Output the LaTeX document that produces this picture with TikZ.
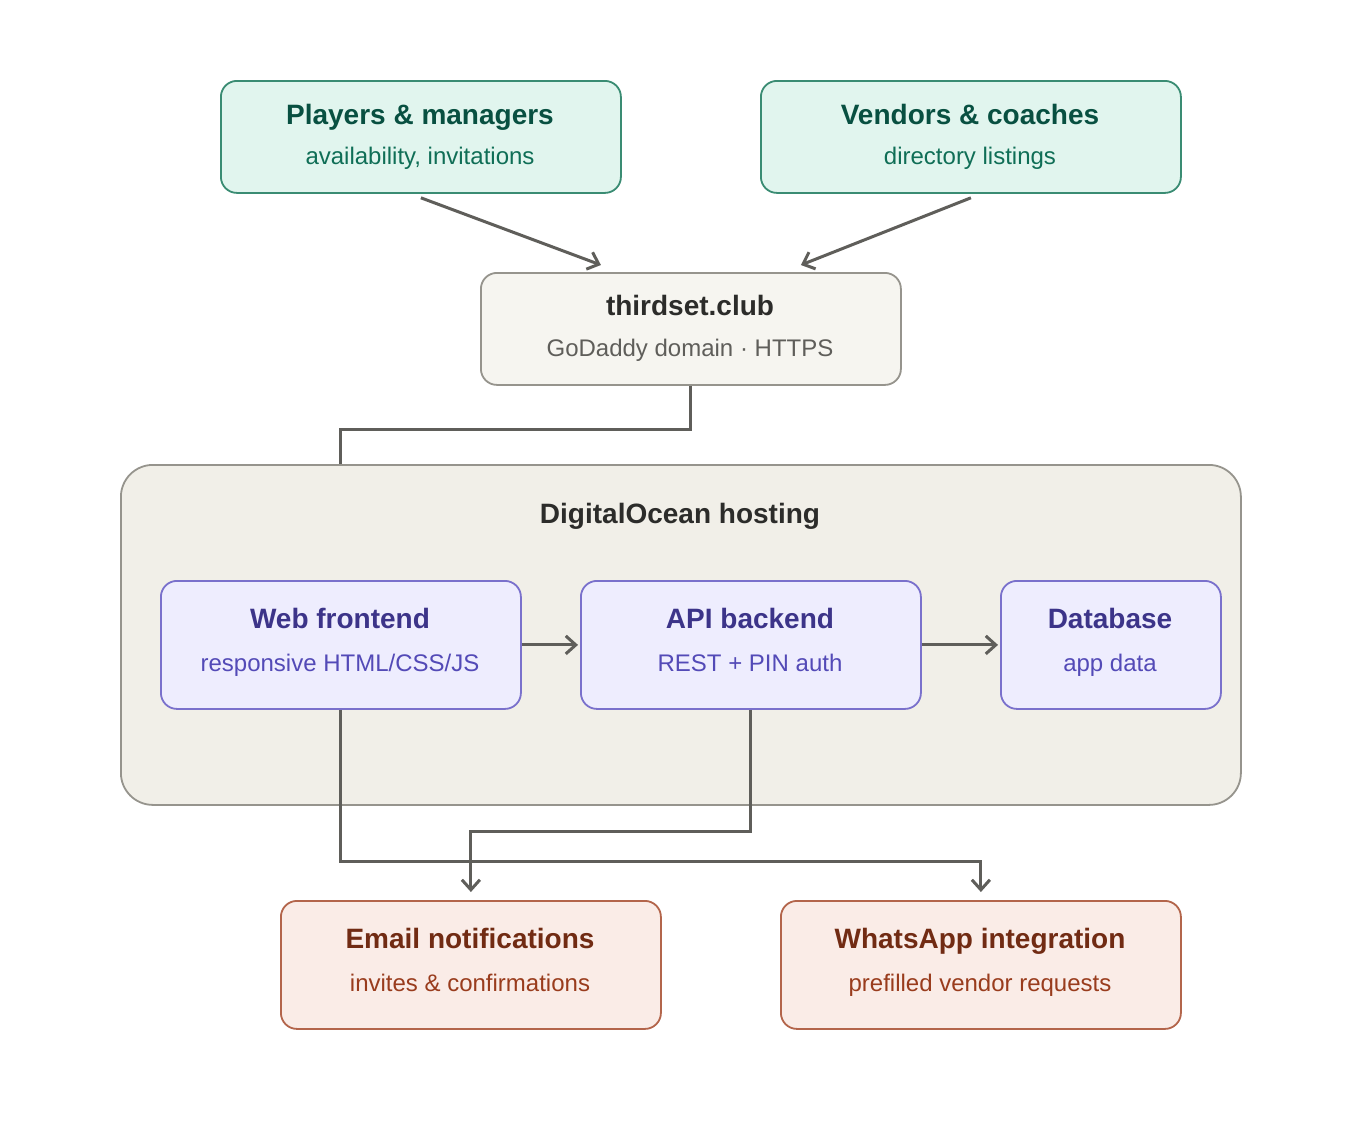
\documentclass[tikz,border=0pt]{standalone}
\usepackage{fontspec}
\setmainfont{Liberation Sans}
\usetikzlibrary{arrows.meta}
\definecolor{tealfill}{HTML}{E1F5EE}
\definecolor{tealline}{HTML}{3A8C73}
\definecolor{tealtitle}{HTML}{085041}
\definecolor{tealsub}{HTML}{0F6E56}
\definecolor{purfill}{HTML}{EEEDFE}
\definecolor{purline}{HTML}{7A71CC}
\definecolor{purtitle}{HTML}{3C3489}
\definecolor{pursub}{HTML}{534AB7}
\definecolor{corfill}{HTML}{FAECE7}
\definecolor{corline}{HTML}{B3654B}
\definecolor{cortitle}{HTML}{712B13}
\definecolor{corsub}{HTML}{993C1D}
\definecolor{grayfill}{HTML}{F6F5F0}
\definecolor{hostfill}{HTML}{F1EFE8}
\definecolor{grayline}{HTML}{96948D}
\definecolor{graytitle}{HTML}{2C2C2A}
\definecolor{graysub}{HTML}{5F5E5A}
\definecolor{conncol}{HTML}{5F5E5A}
\tikzset{
  box/.style={draw, rounded corners=16pt, line width=1.8pt, anchor=north west, inner sep=0pt},
  ttl/.style={anchor=base, inner sep=0pt, font=\fontsize{28}{32}\selectfont\bfseries},
  sub/.style={anchor=base, inner sep=0pt, font=\fontsize{24}{28}\selectfont},
  conn/.style={draw=conncol, line width=3pt},
  arr/.style={conn, -{Straight Barb[length=10pt,width=18pt,line width=3pt]}},
}
\begin{document}
\begin{tikzpicture}[x=1pt,y=-1pt]
\useasboundingbox[fill=white] (0,0) rectangle (1360,1120);

% boxes
\node[box, fill=tealfill, draw=tealline, minimum width=400pt, minimum height=112pt] (p) at (220,80) {};
\node[box, fill=tealfill, draw=tealline, minimum width=420pt, minimum height=112pt] (v) at (760,80) {};
\node[box, fill=grayfill, draw=grayline, minimum width=420pt, minimum height=112pt] (t) at (480,272) {};
\node[box, fill=hostfill, draw=grayline, rounded corners=32pt, minimum width=1120pt, minimum height=340pt] (host) at (120,464) {};
\node[box, fill=purfill, draw=purline, minimum width=360pt, minimum height=128pt] (web) at (160,580) {};
\node[box, fill=purfill, draw=purline, minimum width=340pt, minimum height=128pt] (api) at (580,580) {};
\node[box, fill=purfill, draw=purline, minimum width=220pt, minimum height=128pt] (db) at (1000,580) {};
\node[box, fill=corfill, draw=corline, minimum width=380pt, minimum height=128pt] (em) at (280,900) {};
\node[box, fill=corfill, draw=corline, minimum width=400pt, minimum height=128pt] (wa) at (780,900) {};

% texts
\node[ttl, text=tealtitle] (pT) at (420,124) {Players \& managers};
\node[sub, text=tealsub] (pS) at (420,164) {availability, invitations};
\node[ttl, text=tealtitle] (vT) at (970,124) {Vendors \& coaches};
\node[sub, text=tealsub] (vS) at (970,164) {directory listings};
\node[ttl, text=graytitle] (tT) at (690,315) {thirdset.club};
\node[sub, text=graysub] (tS) at (690,356) {GoDaddy domain · HTTPS};
\node[ttl, text=graytitle] (hT) at (680,523) {DigitalOcean hosting};
\node[ttl, text=purtitle] (webT) at (340,628) {Web frontend};
\node[sub, text=pursub] (webS) at (340,671) {responsive HTML/CSS/JS};
\node[ttl, text=purtitle] (apiT) at (750,628) {API backend};
\node[sub, text=pursub] (apiS) at (750,671) {REST + PIN auth};
\node[ttl, text=purtitle] (dbT) at (1110,628) {Database};
\node[sub, text=pursub] (dbS) at (1110,671) {app data};
\node[ttl, text=cortitle] (emT) at (470,948) {Email notifications};
\node[sub, text=corsub] (emS) at (470,991) {invites \& confirmations};
\node[ttl, text=cortitle] (waT) at (980,948) {WhatsApp integration};
\node[sub, text=corsub] (waS) at (980,991) {prefilled vendor requests};

% connectors
\draw[arr] ([yshift=-4pt]p.south) -- ([xshift=-90pt,yshift=7pt]t.north);
\draw[arr] ([yshift=-4pt]v.south) -- ([xshift=110pt,yshift=7pt]t.north);
\draw[conn] (t.south) -- ++(0,44) -| (web.north |- host.north);
\draw[arr] (web.east) -- ([xshift=-2pt]api.west);
\draw[arr] (api.east) -- ([xshift=-2pt]db.west);
\draw[arr] (web.south) -- ++(0,152) -| ([yshift=8pt]wa.north);
\draw[arr] (api.south) -- ++(0,122) -| ([yshift=8pt]em.north);
\end{tikzpicture}
\end{document}
